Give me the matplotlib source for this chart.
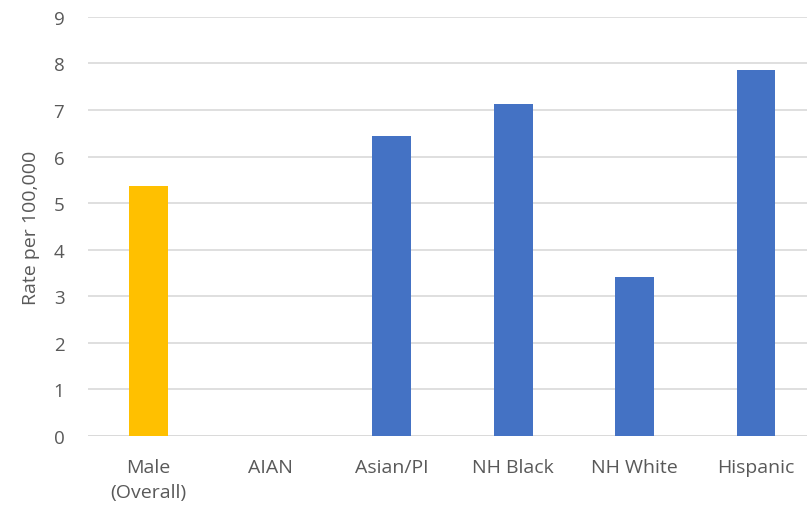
import numpy as np
import matplotlib.pyplot as plt

# Rate per 100,000 by group
categories = ["Male\n(Overall)", "AIAN", "Asian/PI", "NH Black", "NH White", "Hispanic"]
rates = [5.37, 0, 6.45, 7.12, 3.42, 7.85]
bar_colors = ["#FFC000", "#4472C4", "#4472C4", "#4472C4", "#4472C4", "#4472C4"]

plt.rcParams['font.family'] = ['Open Sans', 'DejaVu Sans']
text_color = "#595959"

fig = plt.figure(figsize=(8.07, 5.10), dpi=100)
ax = fig.add_axes([0.109, 0.143, 0.891, 0.822])

x = np.arange(len(categories))
ax.bar(x, rates, width=0.32, color=bar_colors, zorder=3)

ax.set_ylim(0, 9)
ax.set_yticks(range(0, 10))
ax.set_xlim(-0.5, 5.42)
ax.set_xticks(x)
ax.set_xticklabels(categories, linespacing=1.45)
ax.grid(axis="y", color="#d9d9d9", linewidth=1.2, zorder=0)
ax.axhline(0, color="#d9d9d9", linewidth=1.2, zorder=1)

for s in ax.spines.values():
    s.set_visible(False)
ax.tick_params(axis="both", length=0, colors=text_color)
ax.tick_params(axis="x", pad=16, labelsize=14)
ax.tick_params(axis="y", pad=17, labelsize=13.5)
ax.set_ylabel("Rate per 100,000", fontsize=14, color=text_color, labelpad=10)

plt.savefig("out.png", dpi=100)
